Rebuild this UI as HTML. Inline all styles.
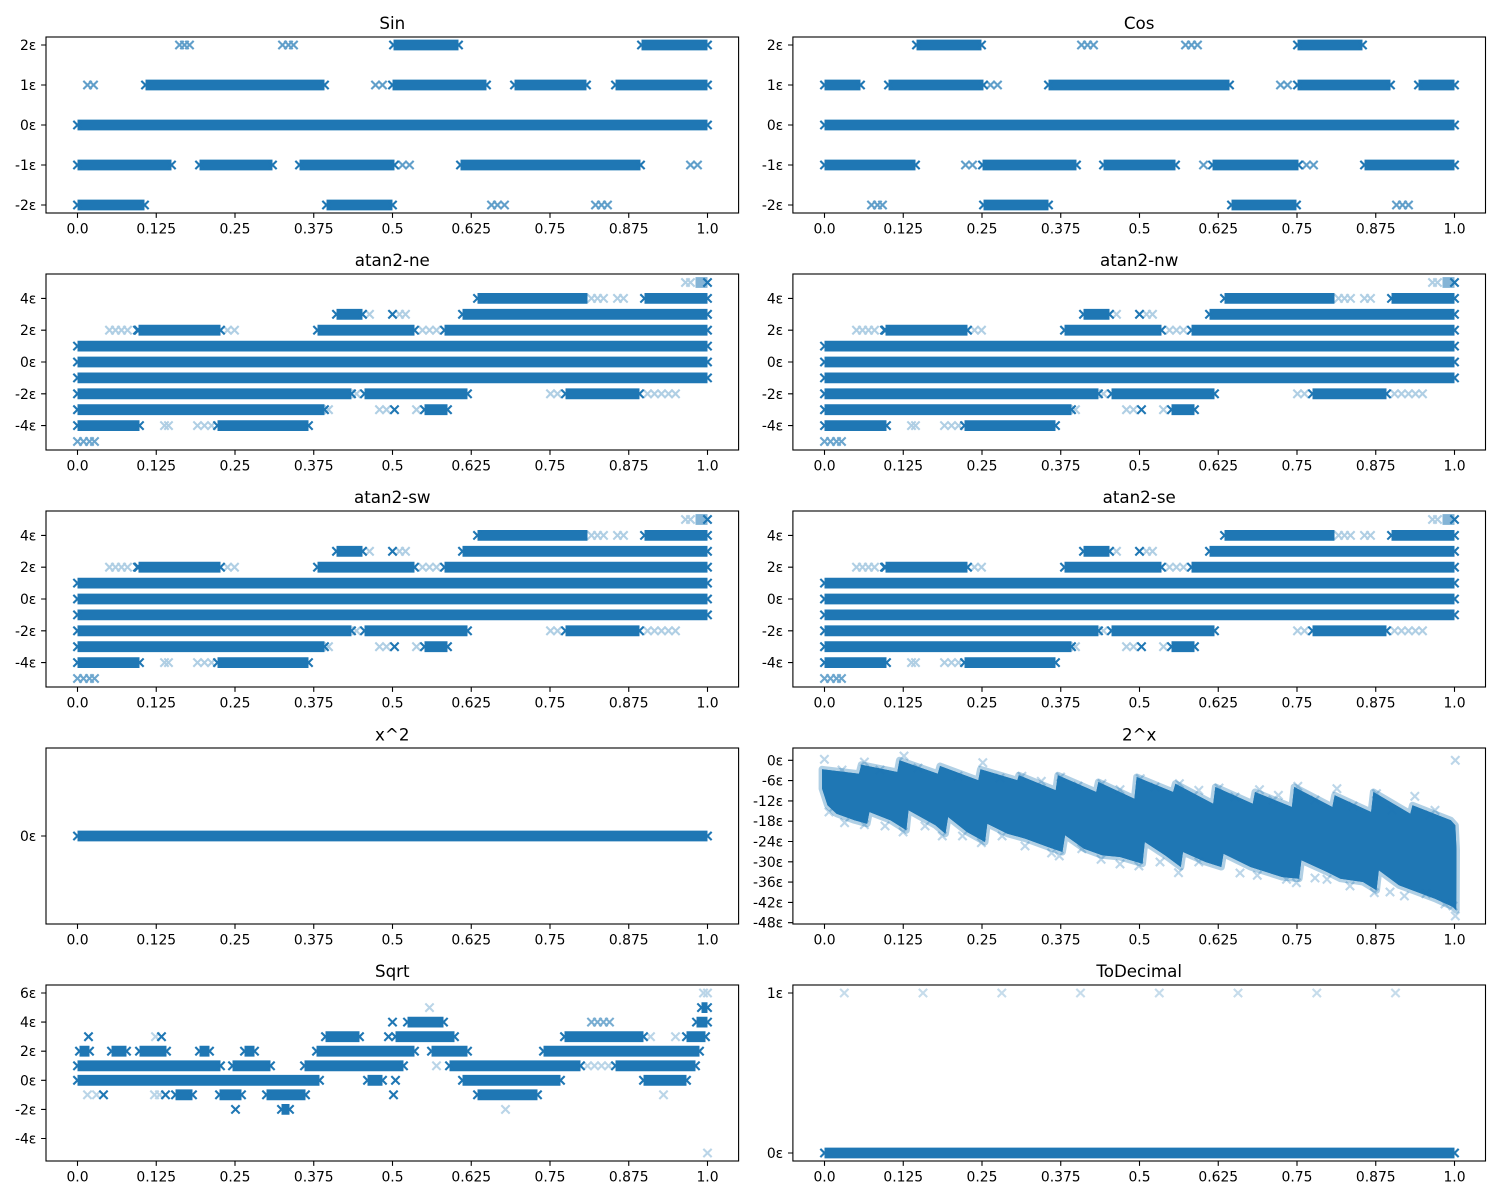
<!DOCTYPE html>
<html><head><meta charset="utf-8"><style>html,body{margin:0;padding:0;background:#fff}svg{display:block}</style></head>
<body>
<svg width="1500" height="1200" viewBox="0 0 1500 1200" xmlns="http://www.w3.org/2000/svg" xmlns:xlink="http://www.w3.org/1999/xlink" font-family="'DejaVu Sans','Liberation Sans',sans-serif" fill="#000">
<defs>
<path id="m" d="M-4.17 -4.17L4.17 4.17M-4.17 4.17L4.17 -4.17"/>
<path id="xt" d="M0 0v4.9M78.75 0v4.9M157.5 0v4.9M236.25 0v4.9M315 0v4.9M393.75 0v4.9M472.5 0v4.9M551.25 0v4.9M630 0v4.9" stroke="#000" stroke-width="1.1" fill="none"/>
<g id="atan">
<path stroke="#1f77b4" stroke-width="10.8" fill="none" d="M400 -63.6H510M567 -63.6H630M259 -47.7H285M385 -47.7H630M61 -31.8H143M240 -31.8H337M367 -31.8H630M0 -15.9H630M0 0H630M0 15.9H630M0 31.8H274M287 31.8H390M488 31.8H562M0 47.7H247M347 47.7H370M0 63.6H62M140 63.6H231"/>
<path stroke="#1f77b4" stroke-width="10.8" fill="none" opacity=".55" d="M618 -79.5H630"/>
<g stroke="#1f77b4" stroke-width="2.1" fill="none">
<use href="#m" x="400" y="-63.6"/><use href="#m" x="567" y="-63.6"/><use href="#m" x="630" y="-63.6"/><use href="#m" x="259" y="-47.7"/><use href="#m" x="285" y="-47.7"/><use href="#m" x="385" y="-47.7"/><use href="#m" x="630" y="-47.7"/><use href="#m" x="315" y="-47.7"/><use href="#m" x="61" y="-31.8"/><use href="#m" x="143" y="-31.8"/><use href="#m" x="240" y="-31.8"/><use href="#m" x="337" y="-31.8"/><use href="#m" x="367" y="-31.8"/><use href="#m" x="630" y="-31.8"/><use href="#m" x="0" y="-15.9"/><use href="#m" x="630" y="-15.9"/><use href="#m" x="0" y="0"/><use href="#m" x="630" y="0"/><use href="#m" x="0" y="15.9"/><use href="#m" x="630" y="15.9"/><use href="#m" x="0" y="31.8"/><use href="#m" x="274" y="31.8"/><use href="#m" x="287" y="31.8"/><use href="#m" x="390" y="31.8"/><use href="#m" x="488" y="31.8"/><use href="#m" x="562" y="31.8"/><use href="#m" x="0" y="47.7"/><use href="#m" x="247" y="47.7"/><use href="#m" x="347" y="47.7"/><use href="#m" x="370" y="47.7"/><use href="#m" x="317" y="47.7"/><use href="#m" x="0" y="63.6"/><use href="#m" x="62" y="63.6"/><use href="#m" x="140" y="63.6"/><use href="#m" x="231" y="63.6"/><use href="#m" x="630" y="-79.5"/><use href="#m" x="60" y="-31.8"/>
</g>
<g stroke="#1f77b4" stroke-width="2.1" fill="none" opacity=".35">
<use href="#m" x="514" y="-63.6"/><use href="#m" x="520" y="-63.6"/><use href="#m" x="526" y="-63.6"/><use href="#m" x="540" y="-63.6"/><use href="#m" x="546" y="-63.6"/><use href="#m" x="292" y="-47.7"/><use href="#m" x="322" y="-47.7"/><use href="#m" x="328" y="-47.7"/><use href="#m" x="32" y="-31.8"/><use href="#m" x="38" y="-31.8"/><use href="#m" x="44" y="-31.8"/><use href="#m" x="50" y="-31.8"/><use href="#m" x="150" y="-31.8"/><use href="#m" x="157" y="-31.8"/><use href="#m" x="345" y="-31.8"/><use href="#m" x="352" y="-31.8"/><use href="#m" x="359" y="-31.8"/><use href="#m" x="279" y="31.8"/><use href="#m" x="473" y="31.8"/><use href="#m" x="480" y="31.8"/><use href="#m" x="570" y="31.8"/><use href="#m" x="577" y="31.8"/><use href="#m" x="584" y="31.8"/><use href="#m" x="591" y="31.8"/><use href="#m" x="598" y="31.8"/><use href="#m" x="251" y="47.7"/><use href="#m" x="302" y="47.7"/><use href="#m" x="309" y="47.7"/><use href="#m" x="339" y="47.7"/><use href="#m" x="87" y="63.6"/><use href="#m" x="91" y="63.6"/><use href="#m" x="120" y="63.6"/><use href="#m" x="127" y="63.6"/><use href="#m" x="134" y="63.6"/><use href="#m" x="608" y="-79.5"/><use href="#m" x="613" y="-79.5"/>
</g>
<g stroke="#1f77b4" stroke-width="2.1" fill="none" opacity=".65">
<use href="#m" x="0" y="79.5"/><use href="#m" x="6" y="79.5"/><use href="#m" x="12" y="79.5"/><use href="#m" x="17" y="79.5"/>
</g>
</g>
</defs>
<rect width="1500" height="1200" fill="#fff"/>

<!-- ================= Sin ================= -->
<g transform="translate(77.5,125)">
<path stroke="#1f77b4" stroke-width="10.8" fill="none" d="M316 -80H381M564 -80H630M68 -40H247M315 -40H409M437 -40H509M538 -40H630M0 0H630M0 40H94M122 40H195M222 40H317M383 40H563M0 80H67M249 80H315"/>
<g stroke="#1f77b4" stroke-width="2.1" fill="none">
<use href="#m" x="316" y="-80"/><use href="#m" x="381" y="-80"/><use href="#m" x="564" y="-80"/><use href="#m" x="630" y="-80"/><use href="#m" x="68" y="-40"/><use href="#m" x="247" y="-40"/><use href="#m" x="315" y="-40"/><use href="#m" x="409" y="-40"/><use href="#m" x="437" y="-40"/><use href="#m" x="509" y="-40"/><use href="#m" x="538" y="-40"/><use href="#m" x="630" y="-40"/><use href="#m" x="0" y="0"/><use href="#m" x="630" y="0"/><use href="#m" x="0" y="40"/><use href="#m" x="94" y="40"/><use href="#m" x="122" y="40"/><use href="#m" x="195" y="40"/><use href="#m" x="222" y="40"/><use href="#m" x="317" y="40"/><use href="#m" x="383" y="40"/><use href="#m" x="563" y="40"/><use href="#m" x="0" y="80"/><use href="#m" x="67" y="80"/><use href="#m" x="249" y="80"/><use href="#m" x="315" y="80"/>
</g>
<g stroke="#1f77b4" stroke-width="2.1" fill="none" opacity=".7">
<use href="#m" x="102" y="-80"/><use href="#m" x="107" y="-80"/><use href="#m" x="112" y="-80"/><use href="#m" x="205" y="-80"/><use href="#m" x="211" y="-80"/><use href="#m" x="216" y="-80"/><use href="#m" x="10" y="-40"/><use href="#m" x="16" y="-40"/><use href="#m" x="298" y="-40"/><use href="#m" x="305" y="-40"/><use href="#m" x="325" y="40"/><use href="#m" x="332" y="40"/><use href="#m" x="613" y="40"/><use href="#m" x="620" y="40"/><use href="#m" x="414" y="80"/><use href="#m" x="420" y="80"/><use href="#m" x="427" y="80"/><use href="#m" x="518" y="80"/><use href="#m" x="524" y="80"/><use href="#m" x="530" y="80"/>
</g>
</g>

<!-- ================= Cos ================= -->
<g transform="translate(824.5,125)">
<path stroke="#1f77b4" stroke-width="10.8" fill="none" d="M92 -80H157M473 -80H538M0 -40H36M64 -40H159M224 -40H405M473 -40H566M594 -40H630M0 0H630M0 40H91M158 40H252M279 40H351M388 40H474M540 40H630M159 80H224M407 80H472"/>
<g stroke="#1f77b4" stroke-width="2.1" fill="none">
<use href="#m" x="92" y="-80"/><use href="#m" x="157" y="-80"/><use href="#m" x="473" y="-80"/><use href="#m" x="538" y="-80"/><use href="#m" x="0" y="-40"/><use href="#m" x="36" y="-40"/><use href="#m" x="64" y="-40"/><use href="#m" x="159" y="-40"/><use href="#m" x="224" y="-40"/><use href="#m" x="405" y="-40"/><use href="#m" x="473" y="-40"/><use href="#m" x="566" y="-40"/><use href="#m" x="594" y="-40"/><use href="#m" x="630" y="-40"/><use href="#m" x="0" y="0"/><use href="#m" x="630" y="0"/><use href="#m" x="0" y="40"/><use href="#m" x="91" y="40"/><use href="#m" x="158" y="40"/><use href="#m" x="252" y="40"/><use href="#m" x="279" y="40"/><use href="#m" x="351" y="40"/><use href="#m" x="388" y="40"/><use href="#m" x="474" y="40"/><use href="#m" x="540" y="40"/><use href="#m" x="630" y="40"/><use href="#m" x="159" y="80"/><use href="#m" x="224" y="80"/><use href="#m" x="407" y="80"/><use href="#m" x="472" y="80"/>
</g>
<g stroke="#1f77b4" stroke-width="2.1" fill="none" opacity=".7">
<use href="#m" x="257" y="-80"/><use href="#m" x="263" y="-80"/><use href="#m" x="269" y="-80"/><use href="#m" x="361" y="-80"/><use href="#m" x="367" y="-80"/><use href="#m" x="373" y="-80"/><use href="#m" x="166" y="-40"/><use href="#m" x="173" y="-40"/><use href="#m" x="456" y="-40"/><use href="#m" x="463" y="-40"/><use href="#m" x="141" y="40"/><use href="#m" x="148" y="40"/><use href="#m" x="379" y="40"/><use href="#m" x="482" y="40"/><use href="#m" x="489" y="40"/><use href="#m" x="47" y="80"/><use href="#m" x="53" y="80"/><use href="#m" x="58" y="80"/><use href="#m" x="572" y="80"/><use href="#m" x="578" y="80"/><use href="#m" x="584" y="80"/>
</g>
</g>

<!-- ================= atan2 x4 ================= -->
<use href="#atan" transform="translate(77.5,362)"/>
<use href="#atan" transform="translate(824.5,362)"/>
<use href="#atan" transform="translate(77.5,599)"/>
<use href="#atan" transform="translate(824.5,599)"/>

<!-- ================= x^2 ================= -->
<g transform="translate(77.5,836)">
<path stroke="#1f77b4" stroke-width="10.8" fill="none" d="M0 0H630"/>
<g stroke="#1f77b4" stroke-width="2.1" fill="none"><use href="#m" x="0" y="0"/><use href="#m" x="630" y="0"/></g>
</g>

<!-- ================= 2^x ================= -->
<polygon fill="#1f77b4" stroke="#1f77b4" stroke-opacity=".35" stroke-width="7" stroke-linejoin="round" points="822.1,769.3 859,773.7 861.3,764.7 897.3,772 899.5,760.3 937.8,773.7 940,766 978.3,780.3 980.5,769.3 1017.4,780.3 1018.8,775.3 1055.7,790.3 1057.9,775.3 1096.2,792 1098.4,782 1134.4,798.7 1136.7,777 1173.1,792 1175.4,783.7 1213.2,803.7 1215.4,787 1252.8,803.7 1255,792 1291.9,807 1294.2,787 1332.4,807 1334.7,795.3 1371.1,812 1373.4,792 1410.3,813.7 1412.5,805.3 1450.8,820.3 1455.3,825.3 1456.5,850 1456.2,910.3 1453,907 1435,898.7 1417,892 1399,885.3 1378.8,870.3 1376.5,890.3 1363,882 1340.5,878.7 1327,872 1301.4,860.3 1299.1,878.7 1282,877 1250.5,867 1223.5,853.7 1221.3,867 1205.5,862 1183,852 1180.8,867 1165,855.3 1144.8,842 1142.5,863.7 1120,857 1102,855.3 1084,848.7 1065.1,835.3 1062.4,852 1048,847 1025.5,838.7 1007.5,833.7 987.3,823.7 985,842 967,832 948.1,817 945.4,833.7 935.5,825.3 908.5,810.3 906.3,830.3 890.5,820.3 869.4,812 867.1,823.7 854.5,820.3 836.5,813.7 827.5,805.3 822.1,788.7"/>
<polygon fill="#1f77b4" points="822.1,769.3 859,773.7 861.3,764.7 897.3,772 899.5,760.3 937.8,773.7 940,766 978.3,780.3 980.5,769.3 1017.4,780.3 1018.8,775.3 1055.7,790.3 1057.9,775.3 1096.2,792 1098.4,782 1134.4,798.7 1136.7,777 1173.1,792 1175.4,783.7 1213.2,803.7 1215.4,787 1252.8,803.7 1255,792 1291.9,807 1294.2,787 1332.4,807 1334.7,795.3 1371.1,812 1373.4,792 1410.3,813.7 1412.5,805.3 1450.8,820.3 1455.3,825.3 1456.5,850 1456.2,910.3 1453,907 1435,898.7 1417,892 1399,885.3 1378.8,870.3 1376.5,890.3 1363,882 1340.5,878.7 1327,872 1301.4,860.3 1299.1,878.7 1282,877 1250.5,867 1223.5,853.7 1221.3,867 1205.5,862 1183,852 1180.8,867 1165,855.3 1144.8,842 1142.5,863.7 1120,857 1102,855.3 1084,848.7 1065.1,835.3 1062.4,852 1048,847 1025.5,838.7 1007.5,833.7 987.3,823.7 985,842 967,832 948.1,817 945.4,833.7 935.5,825.3 908.5,810.3 906.3,830.3 890.5,820.3 869.4,812 867.1,823.7 854.5,820.3 836.5,813.7 827.5,805.3 822.1,788.7"/>
<g stroke="#1f77b4" stroke-width="2.1" fill="none" opacity=".3">
<use href="#m" x="824.4" y="759.3"/><use href="#m" x="864.4" y="762"/><use href="#m" x="904" y="756"/><use href="#m" x="982.8" y="762.7"/><use href="#m" x="1021.9" y="776.3"/><use href="#m" x="1041.3" y="781.3"/><use href="#m" x="1060.6" y="777"/><use href="#m" x="1102" y="783.7"/><use href="#m" x="1120" y="789.7"/><use href="#m" x="1140.3" y="778.7"/><use href="#m" x="1179.4" y="783.7"/><use href="#m" x="1198.8" y="790.3"/><use href="#m" x="1219" y="788"/><use href="#m" x="1259.5" y="789.7"/><use href="#m" x="1278.4" y="795.3"/><use href="#m" x="1297.8" y="786.3"/><use href="#m" x="1336.9" y="788.7"/><use href="#m" x="1376.5" y="793.7"/><use href="#m" x="1414.8" y="796.3"/><use href="#m" x="1435" y="810.3"/><use href="#m" x="1455.3" y="760.3"/><use href="#m" x="1455.3" y="916"/>
<use href="#m" x="844.6" y="822.7"/><use href="#m" x="864.4" y="824.7"/><use href="#m" x="903.1" y="832"/><use href="#m" x="942.3" y="836"/><use href="#m" x="962.5" y="836"/><use href="#m" x="981.4" y="842.7"/><use href="#m" x="1002.1" y="836"/><use href="#m" x="1051.6" y="853"/><use href="#m" x="1059.3" y="856"/><use href="#m" x="1081.8" y="848.7"/><use href="#m" x="1101.1" y="859.3"/><use href="#m" x="1138.9" y="866"/><use href="#m" x="1178.5" y="872.7"/><use href="#m" x="1198.8" y="862"/><use href="#m" x="1257.3" y="875.3"/><use href="#m" x="1286.5" y="879.3"/><use href="#m" x="1296.4" y="882.7"/><use href="#m" x="1327" y="879.3"/><use href="#m" x="1374.3" y="892.7"/><use href="#m" x="1404.4" y="896"/><use href="#m" x="1426" y="893.7"/><use href="#m" x="1453" y="906"/>
<use href="#m" x="842" y="770"/><use href="#m" x="880" y="770"/><use href="#m" x="918" y="768"/><use href="#m" x="958" y="776"/><use href="#m" x="1000" y="778"/><use href="#m" x="1078" y="786"/><use href="#m" x="1155" y="787"/><use href="#m" x="1235" y="797"/><use href="#m" x="1273" y="800"/><use href="#m" x="1315" y="800"/><use href="#m" x="1353" y="806"/><use href="#m" x="1392" y="810"/><use href="#m" x="1430" y="815"/>
<use href="#m" x="829" y="812"/><use href="#m" x="885" y="826"/><use href="#m" x="925" y="826"/><use href="#m" x="1025" y="846"/><use href="#m" x="1120" y="864"/><use href="#m" x="1160" y="862"/><use href="#m" x="1240" y="873"/><use href="#m" x="1315" y="878"/><use href="#m" x="1350" y="886"/><use href="#m" x="1390" y="892"/><use href="#m" x="1445" y="904"/>
</g>

<!-- ================= Sqrt ================= -->
<g transform="translate(77.5,1080.3)">
<path stroke="#1f77b4" stroke-width="10.8" fill="none" d="M624 -72.7H630M330 -58.2H366M619 -58.2H630M248 -43.6H282M318 -43.6H377M487 -43.6H566M609 -43.6H628M2 -29.1H12M34 -29.1H49M62 -29.1H89M122 -29.1H132M167 -29.1H177M239 -29.1H337M354 -29.1H390M466 -29.1H622M0 -14.5H143M155 -14.5H193M227 -14.5H326M372 -14.5H503M538 -14.5H618M0 0H242M290 0H305M385 0H483M566 0H609M98 14.5H115M142 14.5H164M189 14.5H228M400 14.5H460M204 29.1H212"/>
<g stroke="#1f77b4" stroke-width="2.1" fill="none">
<use href="#m" x="624" y="-72.7"/><use href="#m" x="630" y="-72.7"/><use href="#m" x="330" y="-58.2"/><use href="#m" x="366" y="-58.2"/><use href="#m" x="619" y="-58.2"/><use href="#m" x="630" y="-58.2"/><use href="#m" x="315" y="-58.2"/><use href="#m" x="248" y="-43.6"/><use href="#m" x="282" y="-43.6"/><use href="#m" x="318" y="-43.6"/><use href="#m" x="377" y="-43.6"/><use href="#m" x="487" y="-43.6"/><use href="#m" x="566" y="-43.6"/><use href="#m" x="609" y="-43.6"/><use href="#m" x="628" y="-43.6"/><use href="#m" x="11" y="-43.6"/><use href="#m" x="84" y="-43.6"/><use href="#m" x="311" y="-43.6"/><use href="#m" x="2" y="-29.1"/><use href="#m" x="12" y="-29.1"/><use href="#m" x="34" y="-29.1"/><use href="#m" x="49" y="-29.1"/><use href="#m" x="62" y="-29.1"/><use href="#m" x="89" y="-29.1"/><use href="#m" x="122" y="-29.1"/><use href="#m" x="132" y="-29.1"/><use href="#m" x="167" y="-29.1"/><use href="#m" x="177" y="-29.1"/><use href="#m" x="239" y="-29.1"/><use href="#m" x="337" y="-29.1"/><use href="#m" x="354" y="-29.1"/><use href="#m" x="390" y="-29.1"/><use href="#m" x="466" y="-29.1"/><use href="#m" x="622" y="-29.1"/><use href="#m" x="0" y="-14.5"/><use href="#m" x="143" y="-14.5"/><use href="#m" x="155" y="-14.5"/><use href="#m" x="193" y="-14.5"/><use href="#m" x="227" y="-14.5"/><use href="#m" x="326" y="-14.5"/><use href="#m" x="372" y="-14.5"/><use href="#m" x="503" y="-14.5"/><use href="#m" x="538" y="-14.5"/><use href="#m" x="618" y="-14.5"/><use href="#m" x="0" y="0"/><use href="#m" x="242" y="0"/><use href="#m" x="290" y="0"/><use href="#m" x="305" y="0"/><use href="#m" x="318" y="0"/><use href="#m" x="385" y="0"/><use href="#m" x="483" y="0"/><use href="#m" x="566" y="0"/><use href="#m" x="609" y="0"/><use href="#m" x="26" y="14.5"/><use href="#m" x="88" y="14.5"/><use href="#m" x="98" y="14.5"/><use href="#m" x="115" y="14.5"/><use href="#m" x="142" y="14.5"/><use href="#m" x="164" y="14.5"/><use href="#m" x="189" y="14.5"/><use href="#m" x="228" y="14.5"/><use href="#m" x="316" y="14.5"/><use href="#m" x="400" y="14.5"/><use href="#m" x="460" y="14.5"/><use href="#m" x="158" y="29.1"/><use href="#m" x="204" y="29.1"/><use href="#m" x="212" y="29.1"/>
</g>
<g stroke="#1f77b4" stroke-width="2.1" fill="none" opacity=".6">
<use href="#m" x="514" y="-58.2"/><use href="#m" x="520" y="-58.2"/><use href="#m" x="526" y="-58.2"/><use href="#m" x="532" y="-58.2"/>
</g>
<g stroke="#1f77b4" stroke-width="2.1" fill="none" opacity=".3">
<use href="#m" x="626" y="-87.3"/><use href="#m" x="630" y="-87.3"/><use href="#m" x="352" y="-72.7"/><use href="#m" x="78" y="-43.6"/><use href="#m" x="573" y="-43.6"/><use href="#m" x="598" y="-43.6"/><use href="#m" x="510" y="-14.5"/><use href="#m" x="517" y="-14.5"/><use href="#m" x="524" y="-14.5"/><use href="#m" x="531" y="-14.5"/><use href="#m" x="359" y="-14.5"/><use href="#m" x="10" y="14.5"/><use href="#m" x="19" y="14.5"/><use href="#m" x="77" y="14.5"/><use href="#m" x="82" y="14.5"/><use href="#m" x="586" y="14.5"/><use href="#m" x="428" y="29.1"/><use href="#m" x="630" y="72.7"/>
</g>
</g>

<!-- ================= ToDecimal ================= -->
<g transform="translate(824.5,1153)">
<path stroke="#1f77b4" stroke-width="10.8" fill="none" d="M0 0H630"/>
<g stroke="#1f77b4" stroke-width="2.1" fill="none"><use href="#m" x="0" y="0"/><use href="#m" x="630" y="0"/></g>
<g stroke="#1f77b4" stroke-width="2.1" fill="none" opacity=".25">
<use href="#m" x="19.8" y="-160"/><use href="#m" x="98.5" y="-160"/><use href="#m" x="177.3" y="-160"/><use href="#m" x="256" y="-160"/><use href="#m" x="334.8" y="-160"/><use href="#m" x="413.5" y="-160"/><use href="#m" x="492.3" y="-160"/><use href="#m" x="571" y="-160"/>
</g>
</g>

<!-- ================= spines ================= -->
<g fill="none" stroke="#000" stroke-width="1.1">
<rect x="46" y="37" width="692.6" height="176"/><rect x="792.9" y="37" width="692.6" height="176"/>
<rect x="46" y="274" width="692.6" height="176"/><rect x="792.9" y="274" width="692.6" height="176"/>
<rect x="46" y="511" width="692.6" height="176"/><rect x="792.9" y="511" width="692.6" height="176"/>
<rect x="46" y="748" width="692.6" height="176"/><rect x="792.9" y="748" width="692.6" height="176"/>
<rect x="46" y="985" width="692.6" height="176"/><rect x="792.9" y="985" width="692.6" height="176"/>
</g>

<!-- x ticks -->
<use href="#xt" x="77.5" y="213"/><use href="#xt" x="824.5" y="213"/>
<use href="#xt" x="77.5" y="450"/><use href="#xt" x="824.5" y="450"/>
<use href="#xt" x="77.5" y="687"/><use href="#xt" x="824.5" y="687"/>
<use href="#xt" x="77.5" y="924"/><use href="#xt" x="824.5" y="924"/>
<use href="#xt" x="77.5" y="1161"/><use href="#xt" x="824.5" y="1161"/>

<!-- y ticks -->
<path fill="none" stroke="#000" stroke-width="1.1" d="M41.1 45h4.9M41.1 85h4.9M41.1 125h4.9M41.1 165h4.9M41.1 205h4.9M788 45h4.9M788 85h4.9M788 125h4.9M788 165h4.9M788 205h4.9M41.1 298.4h4.9M41.1 330.2h4.9M41.1 362h4.9M41.1 393.8h4.9M41.1 425.6h4.9M788 298.4h4.9M788 330.2h4.9M788 362h4.9M788 393.8h4.9M788 425.6h4.9M41.1 535.4h4.9M41.1 567.2h4.9M41.1 599h4.9M41.1 630.8h4.9M41.1 662.6h4.9M788 535.4h4.9M788 567.2h4.9M788 599h4.9M788 630.8h4.9M788 662.6h4.9M41.1 836h4.9M788 760.3h4.9M788 780.6h4.9M788 800.9h4.9M788 821.2h4.9M788 841.5h4.9M788 861.8h4.9M788 882.1h4.9M788 902.4h4.9M788 922.7h4.9M41.1 993h4.9M41.1 1022.1h4.9M41.1 1051.2h4.9M41.1 1080.3h4.9M41.1 1109.4h4.9M41.1 1138.5h4.9M788 993h4.9M788 1153h4.9"/>

<!-- titles -->
<g font-size="16.7" text-anchor="middle">
<text x="392.3" y="29">Sin</text><text x="1139.2" y="29">Cos</text>
<text x="392.3" y="266">atan2-ne</text><text x="1139.2" y="266">atan2-nw</text>
<text x="392.3" y="503">atan2-sw</text><text x="1139.2" y="503">atan2-se</text>
<text x="392.3" y="740.3">x^2</text><text x="1139.2" y="740.3">2^x</text>
<text x="392.3" y="977">Sqrt</text><text x="1139.2" y="977">ToDecimal</text>
</g>

<!-- y tick labels -->
<g font-size="13.9" text-anchor="end">
<text x="36.3" y="50">2ε</text><text x="36.3" y="90">1ε</text><text x="36.3" y="130">0ε</text><text x="36.3" y="170">-1ε</text><text x="36.3" y="210">-2ε</text>
<text x="783.2" y="50">2ε</text><text x="783.2" y="90">1ε</text><text x="783.2" y="130">0ε</text><text x="783.2" y="170">-1ε</text><text x="783.2" y="210">-2ε</text>
<text x="36.3" y="303.4">4ε</text><text x="36.3" y="335.2">2ε</text><text x="36.3" y="367">0ε</text><text x="36.3" y="398.8">-2ε</text><text x="36.3" y="430.6">-4ε</text>
<text x="783.2" y="303.4">4ε</text><text x="783.2" y="335.2">2ε</text><text x="783.2" y="367">0ε</text><text x="783.2" y="398.8">-2ε</text><text x="783.2" y="430.6">-4ε</text>
<text x="36.3" y="540.4">4ε</text><text x="36.3" y="572.2">2ε</text><text x="36.3" y="604">0ε</text><text x="36.3" y="635.8">-2ε</text><text x="36.3" y="667.6">-4ε</text>
<text x="783.2" y="540.4">4ε</text><text x="783.2" y="572.2">2ε</text><text x="783.2" y="604">0ε</text><text x="783.2" y="635.8">-2ε</text><text x="783.2" y="667.6">-4ε</text>
<text x="36.3" y="841">0ε</text>
<text x="783.2" y="765.3">0ε</text><text x="783.2" y="785.6">-6ε</text><text x="783.2" y="805.9">-12ε</text><text x="783.2" y="826.2">-18ε</text><text x="783.2" y="846.5">-24ε</text><text x="783.2" y="866.8">-30ε</text><text x="783.2" y="887.1">-36ε</text><text x="783.2" y="907.4">-42ε</text><text x="783.2" y="927.7">-48ε</text>
<text x="36.3" y="998">6ε</text><text x="36.3" y="1027.1">4ε</text><text x="36.3" y="1056.2">2ε</text><text x="36.3" y="1085.3">0ε</text><text x="36.3" y="1114.4">-2ε</text><text x="36.3" y="1143.5">-4ε</text>
<text x="783.2" y="998">1ε</text><text x="783.2" y="1158">0ε</text>
</g>

<!-- x tick labels -->
<g font-size="13.9" text-anchor="middle">
<g transform="translate(77.5,233.7)"><text x="0">0.0</text><text x="78.75">0.125</text><text x="157.5">0.25</text><text x="236.25">0.375</text><text x="315">0.5</text><text x="393.75">0.625</text><text x="472.5">0.75</text><text x="551.25">0.875</text><text x="630">1.0</text></g>
<g transform="translate(824.5,233.7)"><text x="0">0.0</text><text x="78.75">0.125</text><text x="157.5">0.25</text><text x="236.25">0.375</text><text x="315">0.5</text><text x="393.75">0.625</text><text x="472.5">0.75</text><text x="551.25">0.875</text><text x="630">1.0</text></g>
<g transform="translate(77.5,470.7)"><text x="0">0.0</text><text x="78.75">0.125</text><text x="157.5">0.25</text><text x="236.25">0.375</text><text x="315">0.5</text><text x="393.75">0.625</text><text x="472.5">0.75</text><text x="551.25">0.875</text><text x="630">1.0</text></g>
<g transform="translate(824.5,470.7)"><text x="0">0.0</text><text x="78.75">0.125</text><text x="157.5">0.25</text><text x="236.25">0.375</text><text x="315">0.5</text><text x="393.75">0.625</text><text x="472.5">0.75</text><text x="551.25">0.875</text><text x="630">1.0</text></g>
<g transform="translate(77.5,707.7)"><text x="0">0.0</text><text x="78.75">0.125</text><text x="157.5">0.25</text><text x="236.25">0.375</text><text x="315">0.5</text><text x="393.75">0.625</text><text x="472.5">0.75</text><text x="551.25">0.875</text><text x="630">1.0</text></g>
<g transform="translate(824.5,707.7)"><text x="0">0.0</text><text x="78.75">0.125</text><text x="157.5">0.25</text><text x="236.25">0.375</text><text x="315">0.5</text><text x="393.75">0.625</text><text x="472.5">0.75</text><text x="551.25">0.875</text><text x="630">1.0</text></g>
<g transform="translate(77.5,944.7)"><text x="0">0.0</text><text x="78.75">0.125</text><text x="157.5">0.25</text><text x="236.25">0.375</text><text x="315">0.5</text><text x="393.75">0.625</text><text x="472.5">0.75</text><text x="551.25">0.875</text><text x="630">1.0</text></g>
<g transform="translate(824.5,944.7)"><text x="0">0.0</text><text x="78.75">0.125</text><text x="157.5">0.25</text><text x="236.25">0.375</text><text x="315">0.5</text><text x="393.75">0.625</text><text x="472.5">0.75</text><text x="551.25">0.875</text><text x="630">1.0</text></g>
<g transform="translate(77.5,1181.7)"><text x="0">0.0</text><text x="78.75">0.125</text><text x="157.5">0.25</text><text x="236.25">0.375</text><text x="315">0.5</text><text x="393.75">0.625</text><text x="472.5">0.75</text><text x="551.25">0.875</text><text x="630">1.0</text></g>
<g transform="translate(824.5,1181.7)"><text x="0">0.0</text><text x="78.75">0.125</text><text x="157.5">0.25</text><text x="236.25">0.375</text><text x="315">0.5</text><text x="393.75">0.625</text><text x="472.5">0.75</text><text x="551.25">0.875</text><text x="630">1.0</text></g>
</g>
</svg>
</body></html>
